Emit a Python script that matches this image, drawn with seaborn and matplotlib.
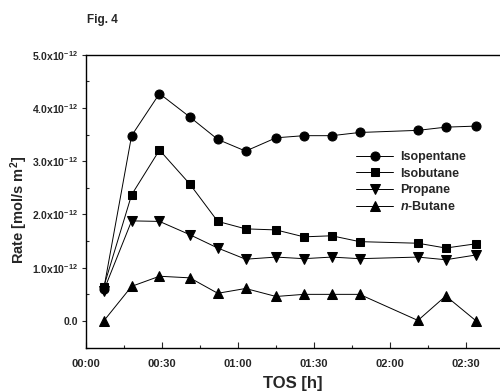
import numpy as np
import pandas as pd
import matplotlib
matplotlib.use("Agg")
import matplotlib.pyplot as plt
from matplotlib.ticker import MultipleLocator, FuncFormatter
import seaborn as sns

# time on stream in minutes
tos_min = [7, 18, 29, 41, 52, 63, 75, 86, 97, 108, 131, 142, 154]

# rates in units of 1e-12 mol/(s m^2)
isopentane = [0.60, 3.48, 4.27, 3.83, 3.41, 3.19, 3.44, 3.48, 3.48, 3.54, 3.58, 3.64, 3.66]
isobutane = [0.64, 2.37, 3.21, 2.57, 1.87, 1.73, 1.71, 1.58, 1.60, 1.49, 1.46, 1.37, 1.45]
propane = [0.57, 1.88, 1.87, 1.62, 1.37, 1.16, 1.20, 1.17, 1.20, 1.17, 1.20, 1.15, 1.24]
n_butane = [0.00, 0.65, 0.84, 0.81, 0.52, 0.61, 0.46, 0.50, 0.50, 0.50, 0.01, 0.47, 0.00]

series_names = ["Isopentane", "Isobutane", "Propane", "n-Butane"]
series_values = [isopentane, isobutane, propane, n_butane]
legend_labels = ["Isopentane", "Isobutane", "Propane", r"$\mathit{n}$-Butane"]

y_ticks = [0.0, 1.0, 2.0, 3.0, 4.0, 5.0]
y_tick_labels = ["0.0", r"1.0x10$^{-12}$", r"2.0x10$^{-12}$", r"3.0x10$^{-12}$",
                 r"4.0x10$^{-12}$", r"5.0x10$^{-12}$"]

frames = []
for name, vals in zip(series_names, series_values):
    frames.append(pd.DataFrame({"TOS": tos_min, "Rate": vals, "Species": name}))
df = pd.concat(frames, ignore_index=True)

sns.set_style("white")
plt.rcParams["font.family"] = ["Liberation Sans", "DejaVu Sans"]
plt.rcParams["font.weight"] = "bold"
plt.rcParams["mathtext.fontset"] = "custom"
plt.rcParams["mathtext.rm"] = "Liberation Sans:bold"
plt.rcParams["mathtext.it"] = "Liberation Sans:italic:bold"
plt.rcParams["mathtext.default"] = "regular"

fig = plt.figure(figsize=(5.0, 3.91), dpi=100)
ax = fig.add_axes([0.172, 0.111, 0.828, 0.749])

markers = {"Isopentane": "o", "Isobutane": "s", "Propane": "v", "n-Butane": "^"}
sizes = {"Isopentane": 6.5, "Isobutane": 6.0, "Propane": 7.0, "n-Butane": 7.0}
for name in series_names:
    sub = df[df["Species"] == name]
    sns.lineplot(data=sub, x="TOS", y="Rate", ax=ax, color="black",
                 marker=markers[name], markersize=sizes[name],
                 markeredgecolor="black", markerfacecolor="black",
                 linewidth=0.7, label=name, legend=False, errorbar=None)

ax.set_xlim(0, 163.4)
ax.set_ylim(-0.5, 5.0)

ax.xaxis.set_major_locator(MultipleLocator(30))
ax.xaxis.set_minor_locator(MultipleLocator(15))
ax.xaxis.set_major_formatter(FuncFormatter(lambda v, p: f"{int(v)//60:02d}:{int(v)%60:02d}"))
ax.set_yticks(y_ticks)
ax.set_yticklabels(y_tick_labels)
ax.yaxis.set_minor_locator(MultipleLocator(0.5))

ax.tick_params(axis="x", which="major", direction="in", length=4, width=0.8,
               labelsize=8, pad=8)
ax.tick_params(axis="x", which="minor", direction="in", length=2.5, width=0.8)
ax.tick_params(axis="y", which="major", direction="out", length=3, width=0.8,
               labelsize=7.5, pad=3)
ax.tick_params(axis="y", which="minor", direction="in", length=2.5, width=0.8)
ax.tick_params(which="both", bottom=True, left=True, top=False, right=False)

for side in ["left", "bottom", "top"]:
    ax.spines[side].set_color("black")
    ax.spines[side].set_linewidth(1.0)
ax.spines["right"].set_visible(False)

ax.set_xlabel("TOS [h]", fontsize=12, fontweight="bold", labelpad=5)
ax.set_ylabel(r"Rate [mol/s m$^2$]", fontsize=10.5, fontweight="bold", labelpad=3)
ax.yaxis.set_label_coords(-0.135, 0.47)

handles, _ = ax.get_legend_handles_labels()
ax.legend(handles, legend_labels, loc="center left", bbox_to_anchor=(0.652, 0.564),
          frameon=False, handlelength=3.0, handletextpad=0.5,
          labelspacing=0.35, borderpad=0.0, borderaxespad=0.0,
          prop={"weight": "bold", "size": 9})

fig.text(0.174, 0.965, "Fig. 4", fontsize=8.5, fontweight="bold", va="top")

fig.savefig("out.png", dpi=100)
